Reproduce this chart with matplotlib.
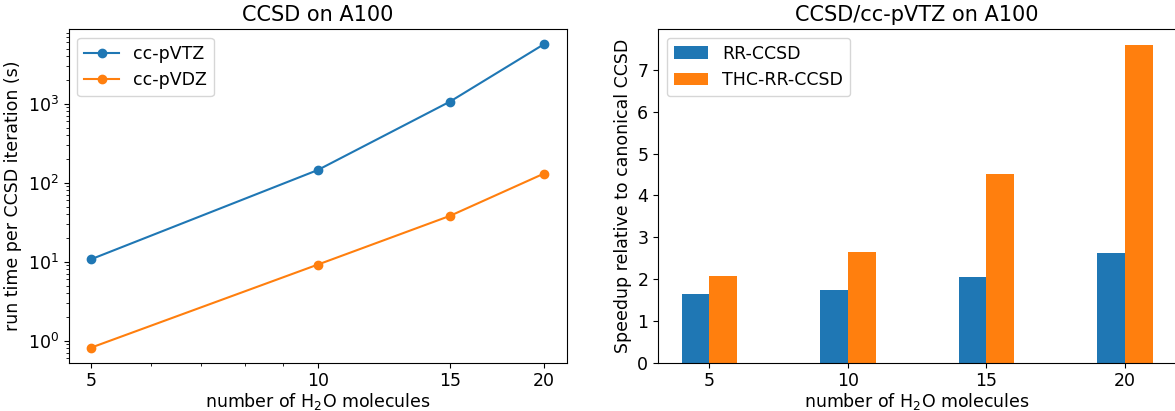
#!/usr/bin/env python3
"""CCSD timings on A100: run time per iteration and speedup of rank-reduced variants."""

import matplotlib
matplotlib.use("Agg")
import matplotlib.pyplot as plt
from matplotlib.ticker import NullFormatter

n_waters = [5, 10, 15, 20]

# seconds per CCSD iteration
time_tz = [10.8, 145, 1070, 5700]
time_dz = [0.82, 9.2, 38.2, 131]

# speedup relative to canonical CCSD, cc-pVTZ
speedup_rr = [1.65, 1.74, 2.05, 2.63]
speedup_thc = [2.08, 2.65, 4.51, 7.60]

plt.rcParams["font.size"] = 12.5

fig = plt.figure(figsize=(11.75, 4.11), dpi=100)
ax_time = fig.add_axes([0.0585, 0.1175, 0.4238, 0.812])
ax_speed = fig.add_axes([0.560, 0.1175, 0.441, 0.812])

ax_time.plot(n_waters, time_tz, "o-", label="cc-pVTZ")
ax_time.plot(n_waters, time_dz, "o-", label="cc-pVDZ")
ax_time.set_xscale("log")
ax_time.set_yscale("log")
ax_time.set_xticks(n_waters, [str(n) for n in n_waters])
ax_time.xaxis.set_minor_formatter(NullFormatter())
ax_time.set_xlabel("number of H$_2$O molecules", labelpad=0.5)
ax_time.set_ylabel("run time per CCSD iteration (s)")
ax_time.set_title("CCSD on A100")
ax_time.legend(loc="upper left")

width = 1.0
ax_speed.bar([n - width / 2 for n in n_waters], speedup_rr, width, label="RR-CCSD")
ax_speed.bar([n + width / 2 for n in n_waters], speedup_thc, width, label="THC-RR-CCSD")
ax_speed.set_xticks(n_waters)
ax_speed.set_xlabel("number of H$_2$O molecules", labelpad=0.5)
ax_speed.set_ylabel("Speedup relative to canonical CCSD")
ax_speed.set_title("CCSD/cc-pVTZ on A100")
ax_speed.legend(loc="upper left")

fig.savefig("out.png", dpi=100)
plt.close(fig)
